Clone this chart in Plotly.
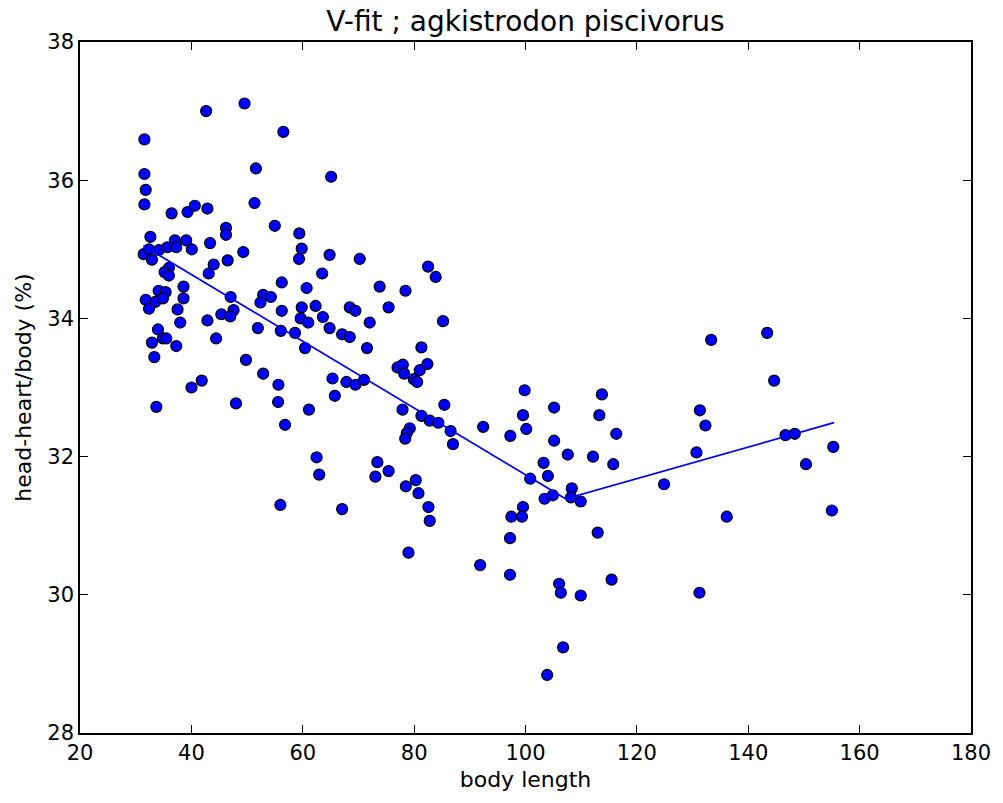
import plotly.graph_objects as go

# Scatter data: body length (x) and head-heart/body % (y)
body_length = [
    42.65, 49.55, 31.57, 56.52, 31.57, 51.59, 31.80, 31.57, 51.34, 36.45,
    39.31, 40.61, 42.88, 54.98, 46.22, 46.22, 59.38, 32.64, 37.04, 39.07,
    43.36, 59.81, 59.33, 31.44, 32.39, 34.18, 35.68, 37.29, 40.07, 32.92,
    49.32, 46.51, 44.01, 43.11, 35.96, 35.19, 35.96, 56.23, 38.59, 60.70,
    34.12, 35.37, 31.80, 33.53, 34.89, 32.39, 38.59, 47.05, 52.89, 54.27,
    52.41, 37.52, 56.23, 59.81, 62.31, 63.62, 45.38, 47.58, 46.99, 38.00,
    42.88, 59.63, 60.99, 34.00, 51.94, 56.06, 58.61, 32.92, 34.89, 35.50,
    37.29, 44.44, 60.40, 33.35, 49.80, 52.89, 55.63, 40.02, 41.86, 33.71,
    48.01, 55.57, 61.11,
    65.10, 64.82, 70.23, 63.49, 73.81, 78.45, 68.44, 69.46, 75.42, 72.02,
    64.82, 67.07, 68.44, 71.54, 81.31, 65.35, 67.85, 69.46, 71.00, 65.76,
    77.02, 77.97, 78.22, 79.94, 80.55, 77.92, 56.82, 79.22, 78.69, 78.40,
    62.49, 62.96, 73.40, 73.04, 75.42, 78.51, 80.30, 80.78, 55.98, 67.07,
    82.51, 83.87, 85.19, 81.01, 82.39, 99.85, 85.43, 81.31, 82.80, 84.35,
    86.55, 86.98, 92.40, 97.28, 99.55, 100.14, 105.14, 105.14, 82.57, 82.80,
    78.99, 91.86, 97.22, 103.25, 104.02, 100.85, 103.43, 104.91, 99.55, 99.37,
    97.46, 97.22,
    113.72, 113.26, 116.30, 107.59, 112.12, 115.76, 108.31, 108.18, 109.92, 112.96,
    106.04, 106.34, 109.92, 115.46, 106.75, 103.89,
    133.34, 143.40, 144.65, 131.31, 132.31, 130.70, 124.88, 136.14, 131.24, 146.69,
    148.35, 155.27, 150.37, 155.02,
]
head_heart_pct = [
    37.00, 37.11, 36.59, 36.70, 36.09, 36.17, 35.86, 35.65, 35.67, 35.52,
    35.54, 35.63, 35.59, 35.34, 35.31, 35.21, 35.23, 35.18, 35.13, 35.13,
    35.09, 35.01, 34.86, 34.93, 35.00, 34.99, 35.03, 35.03, 35.00, 34.85,
    34.96, 34.84, 34.78, 34.65, 34.73, 34.67, 34.62, 34.52, 34.46, 34.44,
    34.40, 34.38, 34.27, 34.24, 34.29, 34.14, 34.29, 34.31, 34.34, 34.31,
    34.23, 34.13, 34.11, 34.16, 34.18, 34.02, 34.06, 34.12, 34.03, 33.94,
    33.97, 34.00, 33.94, 33.84, 33.86, 33.82, 33.79, 33.65, 33.71, 33.71,
    33.60, 33.71, 33.57, 33.44, 33.40, 33.20, 33.04, 33.00, 33.10, 32.72,
    32.77, 32.79, 32.68,
    36.05, 34.92, 34.86, 34.65, 34.46, 34.40, 34.16, 34.11, 34.16, 33.94,
    33.86, 33.77, 33.73, 33.57, 33.58, 33.13, 33.08, 33.04, 33.11, 32.88,
    33.29, 33.33, 33.20, 33.12, 33.08, 32.68, 32.46, 32.41, 32.34, 32.26,
    31.99, 31.74, 31.92, 31.71, 31.79, 31.57, 31.66, 31.47, 31.30, 31.24,
    34.75, 34.60, 33.96, 33.25, 33.34, 32.96, 32.75, 32.59, 32.52, 32.49,
    32.37, 32.18, 32.43, 32.30, 32.60, 32.40, 32.71, 32.23, 31.27, 31.07,
    30.61, 30.43, 30.29, 31.91, 31.72, 31.68, 31.39, 31.44, 31.27, 31.13,
    31.13, 30.82,
    32.90, 32.60, 32.33, 32.03, 32.00, 31.89, 31.54, 31.41, 31.35, 30.90,
    30.16, 30.03, 29.99, 30.22, 29.24, 28.84,
    33.69, 33.79, 33.10, 32.67, 32.45, 32.06, 31.60, 31.13, 30.03, 32.31,
    32.33, 32.14, 31.89, 31.22,
]

# V-fit line (two segments meeting at the breakpoint)
fit_x = [31.4, 107.2, 155.4]
fit_y = [35.05, 31.39, 32.49]

font_family = "DejaVu Sans, sans-serif"

fig = go.Figure()
fig.add_trace(go.Scatter(
    x=body_length, y=head_heart_pct, mode="markers",
    marker=dict(size=11, color="#0000ff", line=dict(color="black", width=1.2)),
    showlegend=False, hoverinfo="skip",
))
fig.add_trace(go.Scatter(
    x=fit_x, y=fit_y, mode="lines",
    line=dict(color="#0000ff", width=1.8),
    showlegend=False, hoverinfo="skip",
))

axis_common = dict(
    showgrid=False, zeroline=False,
    showline=True, linecolor="black", linewidth=1.5, mirror="allticks",
    ticks="inside", ticklen=8, tickwidth=1, tickcolor="black",
    tickfont=dict(family=font_family, size=21, color="black"),
)

fig.update_layout(
    width=1003, height=803,
    margin=dict(l=80, r=28, t=42, b=70),
    paper_bgcolor="white", plot_bgcolor="white",
    title=dict(text="V-fit ; agkistrodon piscivorus", xref="paper", x=0.5, xanchor="center",
               y=1 - 21 / 803, yanchor="middle",
               font=dict(family=font_family, size=28, color="black")),
    xaxis=dict(range=[20, 180], tickvals=[20, 40, 60, 80, 100, 120, 140, 160, 180],
               title=dict(text="body length", standoff=8,
                          font=dict(family=font_family, size=22, color="black")),
               **axis_common),
    yaxis=dict(range=[28, 38], tickvals=[28, 30, 32, 34, 36, 38],
               title=dict(text="head-heart/body (%)", standoff=10,
                          font=dict(family=font_family, size=22, color="black")),
               **axis_common),
)

fig.write_html("out.html")
